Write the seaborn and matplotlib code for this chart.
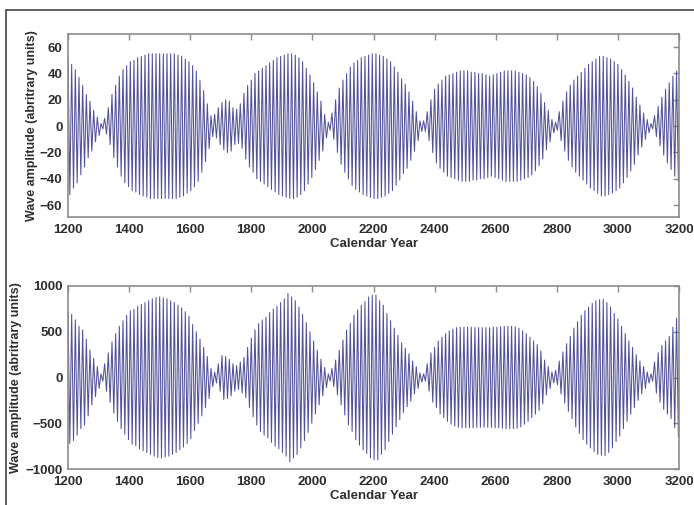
import numpy as np
import pandas as pd
import seaborn as sns
import matplotlib.pyplot as plt
from matplotlib.lines import Line2D

# One oscillation every 12 years, starting in 1200
start_year = 1200
period = 12

# Cycle amplitudes (arbitrary units)
top_amp = [
    52, 47, 43, 37, 31, 24, 19, 12, 7, 2,
    6, 14, 24, 31, 38, 43, 46, 49, 50, 52,
    53, 54, 55, 55, 55, 55, 55, 55, 55, 55,
    54, 53, 51, 49, 46, 42, 35, 27, 17, 8,
    9, 14, 18, 20, 19, 14, 13, 17, 25, 31,
    35, 40, 42, 44, 46, 48, 50, 52, 53, 54,
    55, 55, 54, 52, 49, 44, 39, 33, 26, 19,
    9, 3, 10, 20, 29, 35, 40, 45, 48, 50,
    52, 53, 54, 55, 55, 54, 53, 51, 49, 45,
    41, 36, 32, 26, 19, 11, 4, 4, 11, 20,
    28, 32, 35, 38, 39, 40, 41, 42, 42, 42,
    41, 41, 40, 40, 39, 38, 39, 40, 41, 42,
    42, 42, 42, 41, 40, 39, 37, 34, 30, 25,
    18, 12, 5, 3, 11, 19, 26, 31, 35, 38,
    41, 44, 47, 49, 51, 53, 53, 52, 51, 49,
    47, 43, 39, 34, 29, 22, 16, 10, 5, 2,
    8, 15, 22, 28, 33, 38, 42, 45,
]

# Cycle amplitudes
bottom_amp = [
    720, 690, 630, 560, 520, 420, 300, 210, 120, 40,
    150, 270, 390, 480, 560, 620, 680, 730, 745, 780,
    800, 820, 840, 860, 875, 880, 870, 860, 840, 820,
    790, 760, 720, 670, 580, 500, 420, 330, 230, 100,
    60, 150, 240, 230, 200, 150, 130, 170, 220, 330,
    430, 520, 590, 630, 660, 710, 750, 780, 820, 860,
    920, 880, 840, 770, 690, 600, 500, 400, 300, 200,
    110, 40, 100, 190, 300, 410, 520, 590, 680, 740,
    790, 830, 880, 900, 900, 840, 790, 700, 620, 540,
    460, 380, 320, 260, 180, 120, 50, 40, 150, 270,
    330, 400, 440, 480, 510, 530, 545, 550, 550, 550,
    550, 545, 545, 545, 545, 545, 550, 550, 555, 560,
    560, 560, 555, 540, 510, 480, 440, 400, 360, 290,
    190, 120, 60, 80, 180, 280, 370, 450, 540, 610,
    680, 730, 770, 810, 840, 850, 855, 820, 770, 700,
    640, 560, 480, 400, 330, 250, 180, 120, 60, 40,
    170, 270, 350, 400, 450, 550, 650, 680,
]

top_ticks = [-60, -40, -20, 0, 20, 40, 60]
bottom_ticks = [-1000, -500, 0, 500, 1000]
year_ticks = [1200, 1400, 1600, 1800, 2000, 2200, 2400, 2600, 2800, 3000, 3200]


def wave_frame(amp):
    # each cycle: crest at the cycle year, trough half a period later
    amp = np.array(amp, dtype=float)
    years = start_year + period * np.arange(len(amp))
    x = np.column_stack([years, years + period / 2]).ravel()
    y = np.column_stack([amp, -amp]).ravel()
    return pd.DataFrame({'year': x, 'value': y})


sns.set_theme(style='white')
plt.rcParams['font.family'] = ['Liberation Sans', 'DejaVu Sans']

fig = plt.figure(figsize=(6.94, 5.05), dpi=100)
ax1 = fig.add_axes([68 / 694, 1 - 217 / 505, 611 / 694, 183 / 505])
ax2 = fig.add_axes([68 / 694, 1 - 469 / 505, 611 / 694, 183 / 505])

line_col = '#52529a'
sns.lineplot(data=wave_frame(top_amp), x='year', y='value', ax=ax1,
             color=line_col, lw=0.75, estimator=None, sort=False)
sns.lineplot(data=wave_frame(bottom_amp), x='year', y='value', ax=ax2,
             color=line_col, lw=0.75, estimator=None, sort=False)

ax1.set_ylim(-69, 70)
ax1.set_yticks(top_ticks)
ax2.set_ylim(-1000, 1000)
ax2.set_yticks(bottom_ticks)

text_col = '#2e2e2e'
for ax, ylab_x in [(ax1, -0.049), (ax2, -0.075)]:
    ax.set_xlim(1200, 3200)
    ax.set_xticks(year_ticks)
    for s in ax.spines.values():
        s.set_color('#8c8c8c')
        s.set_linewidth(1.2)
    ax.tick_params(direction='in', length=4, width=1, color='#8c8c8c',
                   top=True, right=True, labelsize=9.5, labelcolor=text_col)
    ax.tick_params(axis='x', pad=5)
    ax.tick_params(axis='y', pad=4)
    for lab in ax.get_xticklabels() + ax.get_yticklabels():
        lab.set_fontweight('bold')
    ax.set_xlabel('Calendar Year', fontsize=9.5, fontweight='bold', color=text_col)
    ax.set_ylabel('Wave amplitude (abritrary units)', fontsize=9,
                  fontweight='bold', color=text_col)
    ax.xaxis.set_label_coords(0.5, -0.115)
    ax.yaxis.set_label_coords(ylab_x, 0.5)

# partial frame around the figure, as in the scanned original
fig.add_artist(Line2D([6 / 694, 6 / 694], [0, 1 - 10 / 505], color='#444444', lw=1.2))
fig.add_artist(Line2D([6 / 694, 1], [1 - 10 / 505, 1 - 10 / 505], color='#444444', lw=1.2))

fig.savefig('out.png', dpi=100)
